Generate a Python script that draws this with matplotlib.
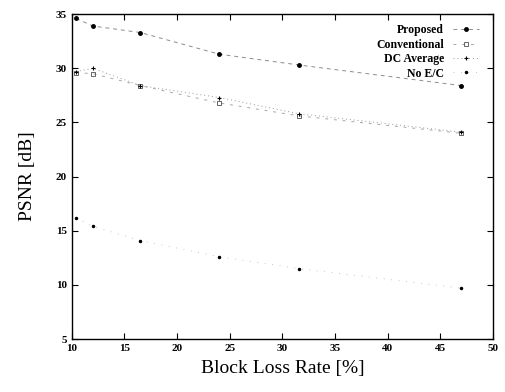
import numpy as np
import matplotlib.pyplot as plt

# block loss rate [%]
loss = [10.4, 12.0, 16.5, 24.0, 31.6, 47.0]
proposed = [34.6, 33.9, 33.3, 31.3, 30.3, 28.4]
conventional = [29.6, 29.5, 28.4, 26.8, 25.6, 24.0]
dc_average = [29.7, 30.0, 28.4, 27.3, 25.8, 24.1]
no_ec = [16.2, 15.4, 14.1, 12.6, 11.5, 9.7]

plt.rcParams['font.family'] = 'Liberation Serif'

fig = plt.figure(figsize=(5.06, 3.92), dpi=100)
ax = fig.add_axes([0.142, 0.135, 0.832, 0.829])

ax.plot(loss, proposed, color='0.55', lw=0.7, ls=(0, (4, 4)),
        marker='o', ms=2.5, mfc='k', mec='k', label='Proposed')
ax.plot(loss, conventional, color='0.65', lw=0.7, ls=(0, (3, 6)),
        marker='s', ms=2.5, mfc='none', mec='0.3', mew=0.6, label='Conventional')
ax.plot(loss, dc_average, color='0.6', lw=0.7, ls=(0, (1, 3)),
        marker='+', ms=3.5, mec='k', mew=0.8, label='DC Average')
ax.plot(loss, no_ec, color='0.7', lw=0.6, ls=(0, (1, 8)),
        marker='.', ms=3, mfc='k', mec='k', label='No E/C')

ax.set_xlim(10, 50)
ax.set_ylim(5, 35)
ax.set_xticks(np.arange(10, 51, 5))
ax.set_yticks(np.arange(5, 36, 5))
ax.tick_params(direction='in', top=True, right=True, length=4, width=0.8,
               labelsize=8)
for lab in ax.get_xticklabels() + ax.get_yticklabels():
    lab.set_fontweight('bold')
for s in ax.spines.values():
    s.set_linewidth(1.0)

ax.set_xlabel('Block Loss Rate [%]', fontsize=14, labelpad=5)
ax.set_ylabel('PSNR [dB]', fontsize=14, labelpad=14)

leg = ax.legend(loc='upper right', bbox_to_anchor=(0.985, 0.99), frameon=False,
                markerfirst=False, handlelength=2.2,
                labelspacing=0.2, borderaxespad=0.2,
                prop={'weight': 'bold', 'size': 8.5})

fig.savefig('out.png', dpi=100)
